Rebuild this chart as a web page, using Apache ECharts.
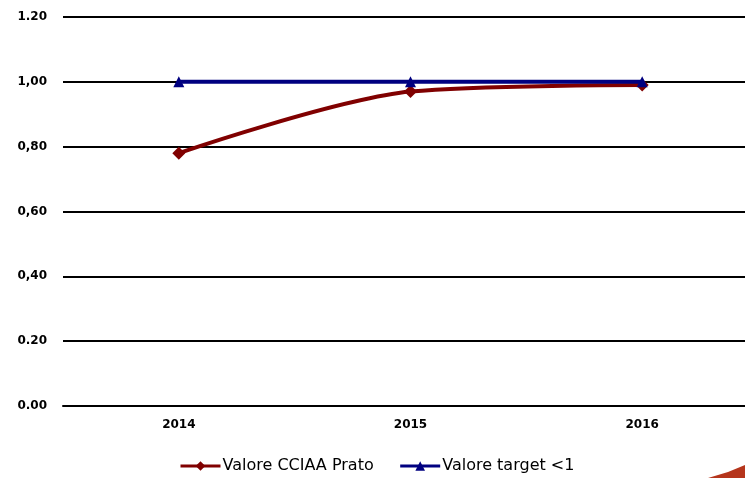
<!DOCTYPE html>
<html>
<head>
<meta charset="utf-8">
<script src="https://cdn.jsdelivr.net/npm/echarts@6/dist/echarts.min.js"></script>
<style>
  html, body { margin: 0; padding: 0; background: #fff; }
  #chart { width: 745px; height: 478px; }
</style>
</head>
<body>
<div id="chart"></div>
<script>
const years = ['2014', '2015', '2016']
const valoreCciaa = [0.78, 0.97, 0.99]
const valoreTarget = [1, 1, 1]
// etichette asse Y come nell'originale (virgola/punto misti)
const yTickLabels = ['0.00', '0.20', '0,40', '0,60', '0,80', '1,00', '1.20']

const myEchart = echarts.init(document.getElementById('chart'))
const options = {
  animation: false,
  textStyle: { fontFamily: 'DejaVu Sans, sans-serif' },
  grid: {
    left: 63,
    top: 17,
    width: 695,
    height: 389,
    containLabel: false,
    outerBoundsMode: 'none'
  },
  legend: {
    left: 174,
    top: 453,
    itemWidth: 40,
    itemHeight: 12,
    itemGap: 25,
    lineStyle: { width: 3 },
    textStyle: { fontSize: 16, color: '#000', padding: [0, 0, 0, -3] },
    data: ['Valore CCIAA Prato', 'Valore target <1']
  },
  xAxis: {
    type: 'category',
    boundaryGap: true,
    data: years,
    axisLine: { show: true, lineStyle: { color: '#000', width: 2 } },
    axisTick: { show: false },
    axisLabel: { color: '#000', fontSize: 12, fontWeight: 'bold', margin: 13 }
  },
  yAxis: {
    type: 'value',
    min: 0,
    max: 1.2,
    interval: 0.2,
    axisLine: { show: false },
    axisTick: { show: false },
    splitLine: { show: true, lineStyle: { color: '#000', width: 2 } },
    axisLabel: {
      color: '#000',
      fontSize: 12,
      fontWeight: 'bold',
      margin: 16,
      formatter: (v) => yTickLabels[Math.round(v / 0.2)]
    }
  },
  series: [
    {
      name: 'Valore CCIAA Prato',
      type: 'line',
      smooth: 0.3,
      data: valoreCciaa,
      symbol: 'diamond',
      symbolSize: 13,
      lineStyle: { color: '#800000', width: 4 },
      itemStyle: { color: '#800000' },
      z: 2
    },
    {
      name: 'Valore target <1',
      type: 'line',
      data: valoreTarget,
      symbol: 'triangle',
      symbolSize: 11,
      lineStyle: { color: '#000080', width: 4 },
      itemStyle: { color: '#000080' },
      z: 3
    }
  ],
  graphic: [
    {
      type: 'polygon',
      silent: true,
      shape: { points: [[708, 478], [728, 472], [745, 465], [745, 478]] },
      style: { fill: '#b5351c' }
    }
  ]
}
myEchart.setOption(options)
</script>
</body>
</html>
